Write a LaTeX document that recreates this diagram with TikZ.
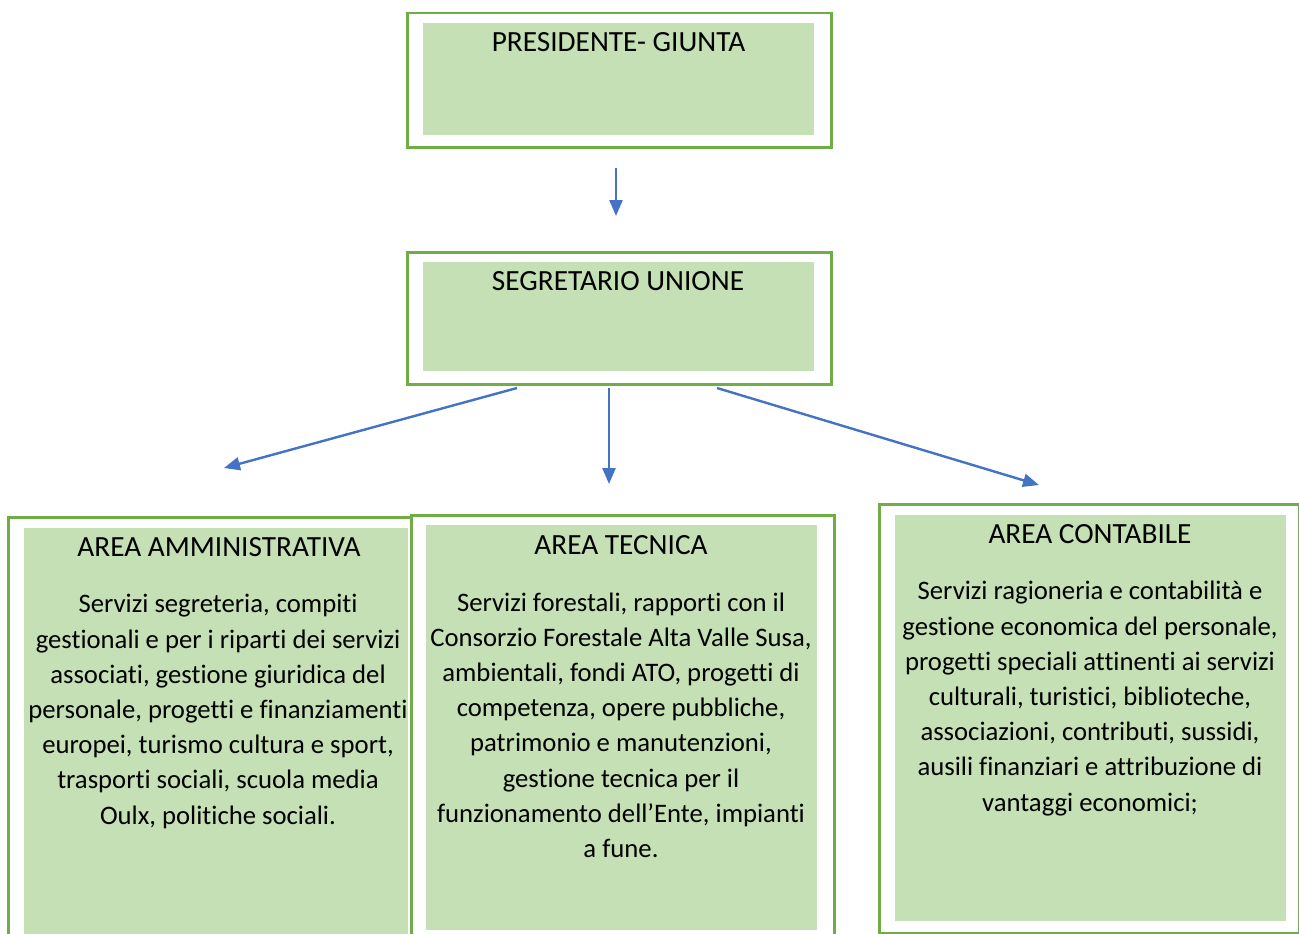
\documentclass[tikz,border=0pt]{standalone}
\usepackage{fontspec}
\setmainfont{Carlito}[Ligatures={NoCommon,NoContextual}]
\usetikzlibrary{arrows.meta}
\definecolor{gborder}{HTML}{70AD47}
\definecolor{gfill}{HTML}{C5E0B4}
\definecolor{ablue}{HTML}{4472C4}
\begin{document}
\begin{tikzpicture}[x=1pt,y=-1pt,
  outerbox/.style={draw=gborder, line width=2.5pt, inner sep=0pt, anchor=north west},
  innerbox/.style={fill=gfill, inner sep=0pt, anchor=north west},
  lbl/.style={inner sep=0pt, align=center, anchor=base, font=\fontsize{29.3}{35.2}\selectfont},
  body/.style={inner sep=0pt, align=center, anchor=base, font=\fontsize{26.7}{35.2}\selectfont},
  conn/.style={draw=ablue, line width=2.4pt, -{Triangle[length=16pt,width=13pt]}}]
\clip (0,0) rectangle (1299,934);
\fill[white] (0,0) rectangle (1299,934);
% top boxes
\node[innerbox, minimum width=391pt, minimum height=112pt] (presin) at (423,23) {};
\node[outerbox, minimum width=424pt, minimum height=134pt] (pres) at (406,12) {};
\node[innerbox, minimum width=391pt, minimum height=109pt] (segin) at (423,262) {};
\node[outerbox, minimum width=424pt, minimum height=132pt] (seg) at (406,251) {};
% bottom boxes
\node[innerbox, minimum width=384pt, minimum height=440pt] (ammin) at (24,528) {};
\node[outerbox, minimum width=403pt, minimum height=450pt] (amm) at (7,516) {};
\node[innerbox, minimum width=391pt, minimum height=405pt] (tecin) at (426,525) {};
\node[outerbox, minimum width=423pt, minimum height=450pt] (tec) at (410,514) {};
\node[innerbox, minimum width=391pt, minimum height=406pt] (conin) at (895,515) {};
\node[outerbox, minimum width=420pt, minimum height=429pt] (con) at (878,503) {};
% texts (multi-line texts anchored at the baseline of their last line)
\node[lbl] (t1) at (618.5,52) {PRESIDENTE- GIUNTA};
\node[lbl] (t2) at (618,290) {SEGRETARIO UNIONE};
\node[lbl] (t3) at (219,556) {AREA AMMINISTRATIVA};
\node[body] (b3) at (218,824) {Servizi segreteria, compiti\\gestionali e per i riparti dei servizi\\associati, gestione giuridica del\\personale, progetti e finanziamenti\\europei, turismo cultura e sport,\\trasporti sociali, scuola media\\Oulx, politiche sociali.};
\node[lbl] (t4) at (621,554) {AREA TECNICA};
\node[body] (b4) at (621,857.5) {Servizi forestali, rapporti con il\\Consorzio Forestale Alta Valle Susa,\\ambientali, fondi ATO, progetti di\\competenza, opere pubbliche,\\patrimonio e manutenzioni,\\gestione tecnica per il\\funzionamento dell’Ente, impianti\\a fune.};
\node[lbl] (t5) at (1090,543) {AREA CONTABILE};
\node[body] (b5) at (1090,811) {Servizi ragioneria e contabilità e\\gestione economica del personale,\\progetti speciali attinenti ai servizi\\culturali, turistici, biblioteche,\\associazioni, contributi, sussidi,\\ausili finanziari e attribuzione di\\vantaggi economici;};
% connectors
\coordinate (s0) at (616,168);
\coordinate (e0) at (616,216);
\coordinate (s1) at (517,388);
\coordinate (e1) at (224,468);
\coordinate (s2) at (609,388);
\coordinate (e2) at (609,484);
\coordinate (s3) at (717,388);
\coordinate (e3) at (1039,485);
\draw[conn] (s0) -- (e0);
\draw[conn] (s1) -- (e1);
\draw[conn] (s2) -- (e2);
\draw[conn] (s3) -- (e3);
\end{tikzpicture}
\end{document}
